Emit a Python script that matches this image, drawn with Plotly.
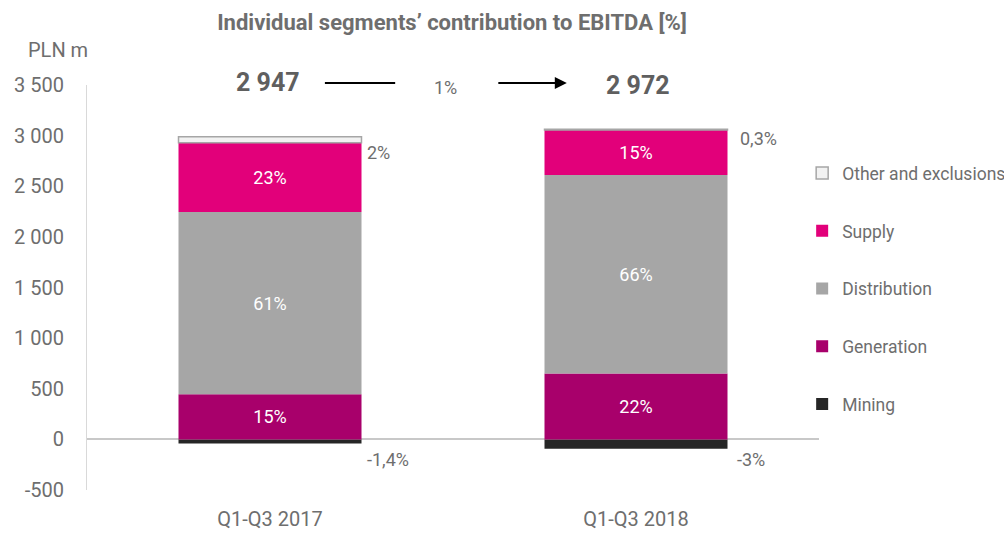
import plotly.graph_objects as go

categories = ["Q1-Q3 2017", "Q1-Q3 2018"]
mining = [-41, -92]
generation = [445, 650]
distribution = [1800, 1960]
supply = [684, 445]
other = [59, 9]
totals = ["2 947", "2 972"]
change_label = "1%"
gen_pct = ["15%", "22%"]
dist_pct = ["61%", "66%"]
sup_pct = ["23%", "15%"]
other_pct = ["2%", "0,3%"]
mining_pct = ["-1,4%", "-3%"]
tick_vals = [-500, 0, 500, 1000, 1500, 2000, 2500, 3000, 3500]
tick_text = ["-500", "0", "500", "1 000", "1 500", "2 000", "2 500", "3 000", "3 500"]

FONT = "Roboto"
GREY = "#6e6e6e"

fig = go.Figure()
series = [
    ("Mining", mining, "#262626", None, None, 5),
    ("Generation", generation, "#A8006B", gen_pct, None, 4),
    ("Distribution", distribution, "#A6A6A6", dist_pct, None, 3),
    ("Supply", supply, "#E2007A", sup_pct, None, 2),
    ("Other and exclusions", other, "#F2F2F2", None, "#A6A6A6", 1),
]
for name, vals, col, txt, line, rank in series:
    fig.add_trace(go.Bar(
        name=name, x=categories, y=vals,
        marker=dict(color=col, line=dict(color=line or col, width=1.5 if line else 0)),
        text=txt, textposition="inside" if txt else "none",
        insidetextanchor="middle",
        textfont=dict(family=FONT, size=18, color="white"),
        legendgroup=name, legendrank=rank, hoverinfo="skip",
    ))

ann = []
# outside labels
for i in range(2):
    ann.append(dict(x=i + [0.26, 0.28][i], y=[2833, 2971][i], xref="x", yref="y", text=other_pct[i],
                    showarrow=False, xanchor="left", yanchor="middle",
                    font=dict(family=FONT, size=18, color=GREY)))
    ann.append(dict(x=i + [0.26, 0.27][i], y=-200, xref="x", yref="y", text=mining_pct[i],
                    showarrow=False, xanchor="left", yanchor="middle",
                    font=dict(family=FONT, size=18, color=GREY)))
# totals
ann.append(dict(x=-0.005, y=1.005, xref="x", yref="paper", text="<b>" + totals[0] + "</b>",
                showarrow=False, xanchor="center", yanchor="middle",
                font=dict(family=FONT, size=25, color="#5f5f5f")))
ann.append(dict(x=1.005, y=0.998, xref="x", yref="paper", text="<b>" + totals[1] + "</b>",
                showarrow=False, xanchor="center", yanchor="middle",
                font=dict(family=FONT, size=25, color="#5f5f5f")))
ann.append(dict(x=0.48, y=0.993, xref="x", yref="paper", text=change_label,
                showarrow=False, xanchor="center", yanchor="middle",
                font=dict(family=FONT, size=18, color=GREY)))
# arrow
ann.append(dict(x=0.811, y=1.005, ax=-70, ay=0, xref="x", yref="paper", axref="pixel", ayref="pixel",
                text="", showarrow=True, arrowhead=2, arrowsize=1.2, arrowwidth=2, arrowcolor="black"))
# unit label
ann.append(dict(x=-0.040, y=1.086, xref="paper", yref="paper", text="PLN m", showarrow=False,
                xanchor="center", yanchor="middle", font=dict(family=FONT, size=20, color=GREY)))

fig.update_layout(
    width=1004, height=533,
    barmode="relative", bargap=0.5,
    plot_bgcolor="white", paper_bgcolor="white",
    margin=dict(l=87, r=185, t=85, b=43, autoexpand=False),
    font=dict(family=FONT, color=GREY),
    title=dict(text="<b>Individual segments’ contribution to EBITDA [%]</b>", x=452 / 1004, xanchor="center",
               y=1 - 22 / 533, yanchor="middle", font=dict(family=FONT, size=22, color="#6e6e6e")),
    showlegend=True,
    legend=dict(x=0.977, xanchor="left", y=0.827, yanchor="top", traceorder="grouped",
                tracegroupgap=32, font=dict(family=FONT, size=17.5, color=GREY), bgcolor="rgba(0,0,0,0)"),
    annotations=ann,
    shapes=[dict(type="line", xref="x", yref="paper", x0=0.15, x1=0.342, y0=1.005, y1=1.005,
                 line=dict(color="black", width=2))],
)
fig.update_xaxes(showgrid=False, showline=False, ticks="", ticklabelstandoff=15, automargin=False,
                 tickfont=dict(family=FONT, size=20, color=GREY), range=[-0.5, 1.5])
fig.update_yaxes(range=[-500, 3500], tickvals=tick_vals, ticktext=tick_text, showgrid=False, automargin=False,
                 showline=True, linecolor="#D9D9D9", linewidth=1, zeroline=True, zerolinecolor="#C8C8C8",
                 zerolinewidth=1.5, ticks="", ticklabelstandoff=18,
                 tickfont=dict(family=FONT, size=20, color=GREY))

fig.write_html("out.html", config={"displayModeBar": False},
               post_script="document.body.style.margin='0';")
